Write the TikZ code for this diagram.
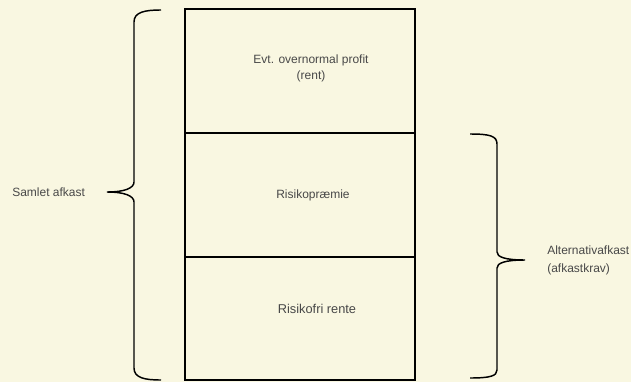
\documentclass[tikz,border=0pt]{standalone}
\usepackage{fontspec}
\setmainfont{Liberation Sans}
\definecolor{paper}{RGB}{249,247,225}
\definecolor{ink}{RGB}{72,72,72}
\begin{document}
\begin{tikzpicture}[x=0.75pt,y=-0.75pt,
  lbl/.style={font=\fontsize{9}{12}\selectfont, text=ink, inner sep=0pt, align=center},
  frame/.style={draw=black, line width=1.6pt},
  brace/.style={draw=black, line width=1.1pt}]
  % canvas
  \fill[paper] (0,0) rectangle (631,382);
  \useasboundingbox (0,0) rectangle (631,382);

  % stacked return components
  \draw[frame] (185,9) rectangle (415,380);
  \draw[frame] (185,133) -- (415,133);
  \draw[frame] (185,257) -- (415,257);

  \node[lbl] (rent) at (311,68) {Evt. overnormal profit\\(rent)};
  \node[lbl] (praemie) at (313,195) {Risikopræmie};
  \node[lbl, font=\fontsize{9.6}{12}\selectfont] (risikofri) at (317,309) {Risikofri rente};

  % total return brace
  \coordinate (ltip) at (107,192);
  \draw[brace] (161,10) .. controls (145,10) and (134,12) .. (134,22) -- (134,182)
    .. controls (134,188) and (125,192) .. (ltip)
    .. controls (125,192) and (134,196) .. (134,202) -- (134,368)
    .. controls (134,378) and (145,380) .. (161,380);
  \node[lbl, anchor=west] (samlet) at (12,192) {Samlet afkast};

  % required return brace
  \coordinate (rtip) at (525,260);
  \draw[brace] (470,134) .. controls (490,134) and (497,136) .. (497,144) -- (497,252)
    .. controls (497,257) and (505,260) .. (rtip)
    .. controls (505,260) and (497,263) .. (497,268) -- (497,370)
    .. controls (497,376) and (490,378) .. (470,378);
  \node[lbl, anchor=west, align=left, font=\fontsize{9}{13.5}\selectfont] (alt) at (547,260) {Alternativafkast\\(afkastkrav)};
\end{tikzpicture}
\end{document}
